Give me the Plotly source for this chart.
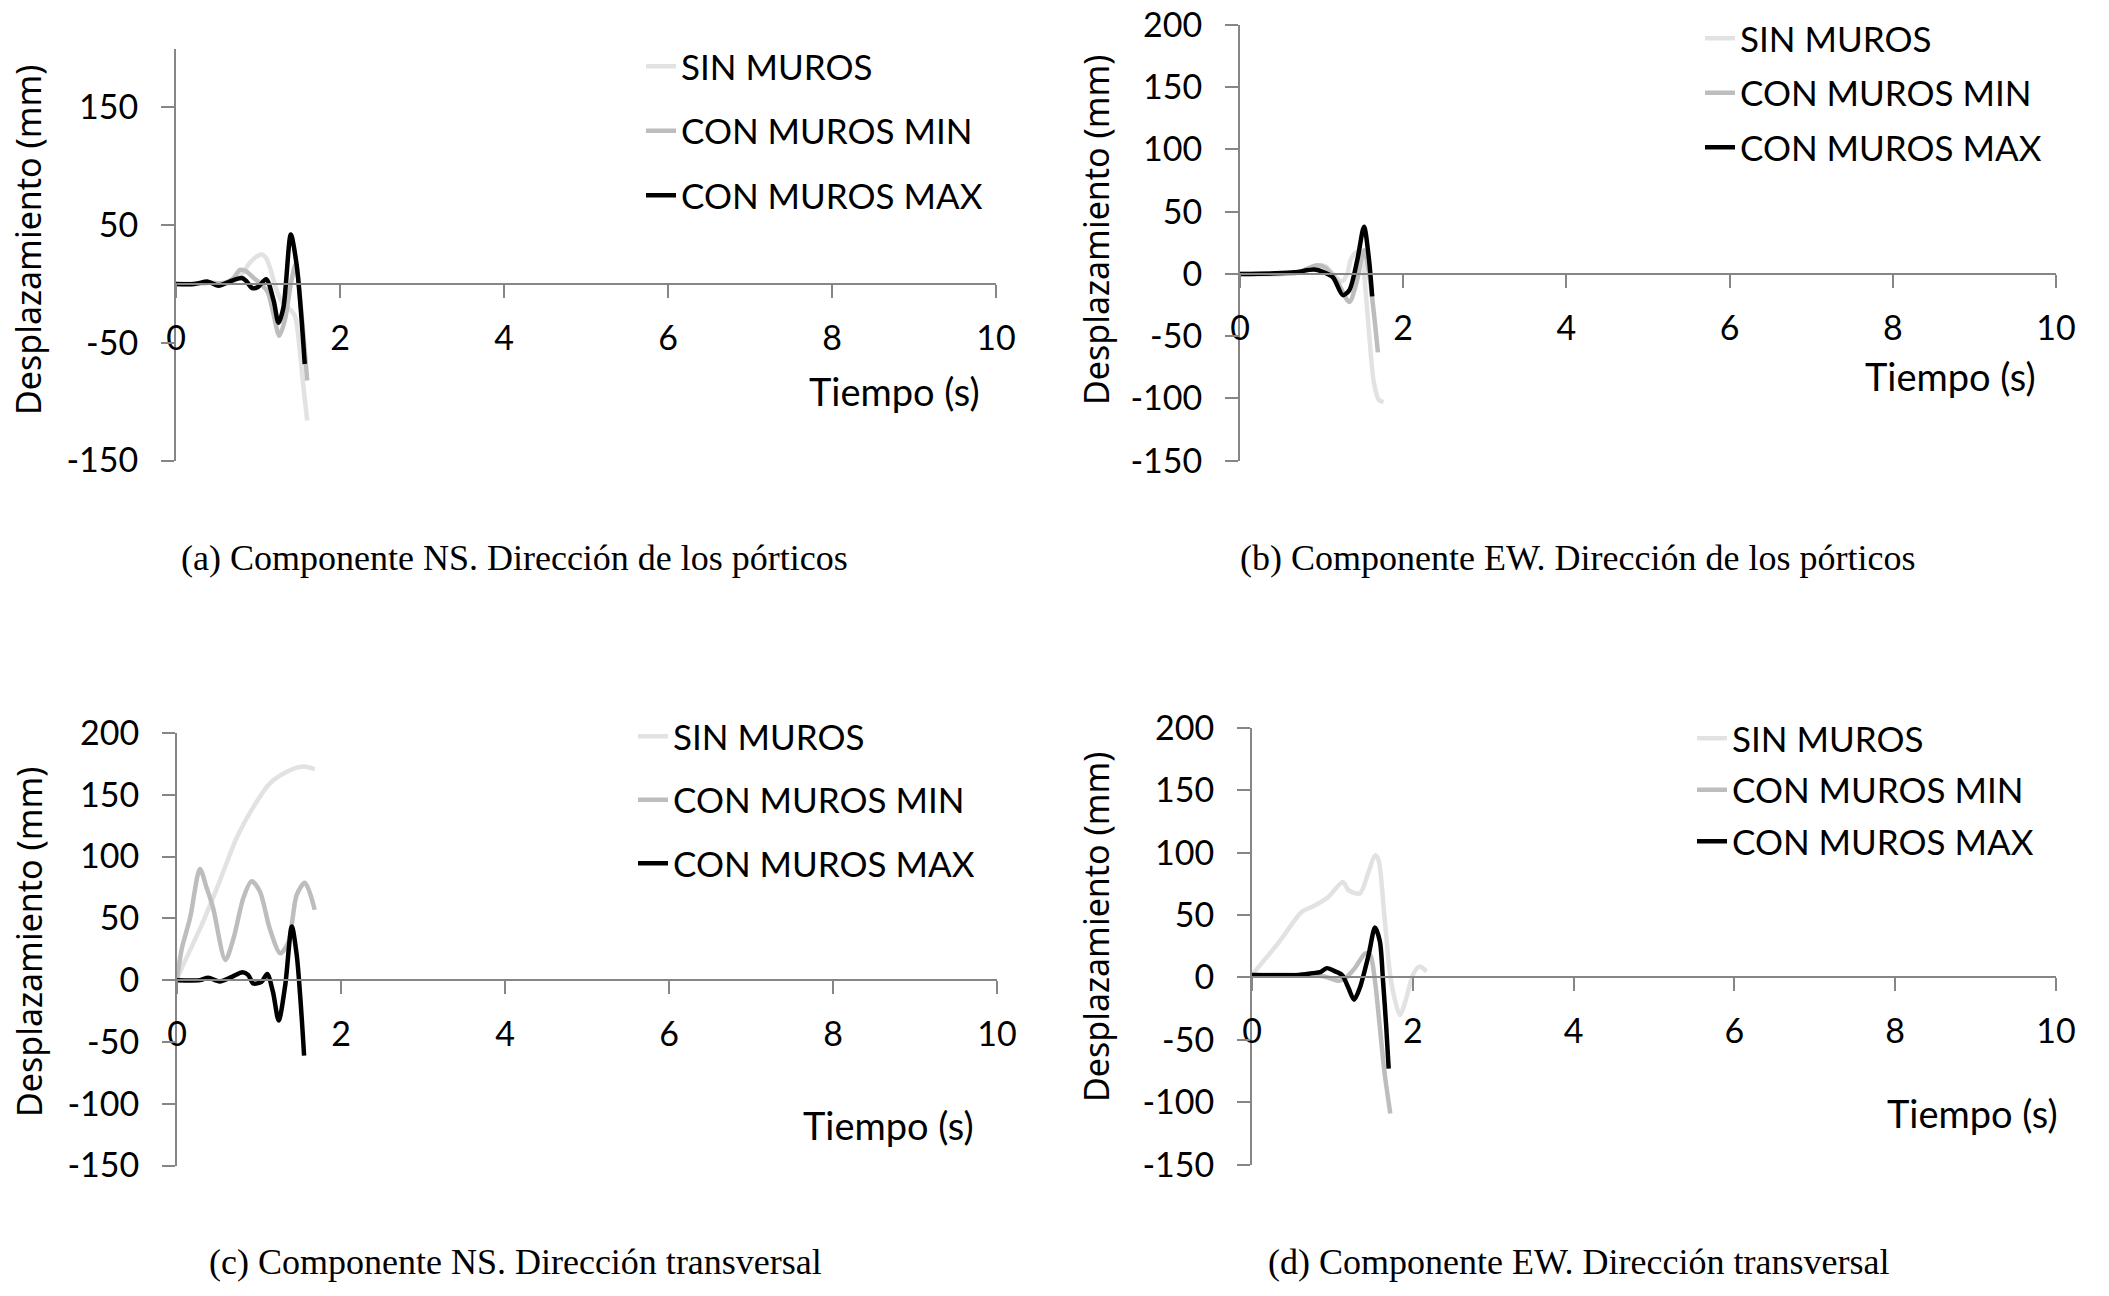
import plotly.graph_objects as go

W, H = 2109, 1296

SERIES = ["SIN MUROS", "CON MUROS MIN", "CON MUROS MAX"]
COLORS = ["#e2e2e2", "#bdbdbd", "#000000"]

# ---- (a) Componente NS, dirección de los pórticos ----
t_a_sin = [0, 0.2, 0.4, 0.6, 0.7, 0.8, 0.9, 1.0, 1.05, 1.1, 1.15, 1.22, 1.3, 1.38, 1.45, 1.5, 1.55, 1.6]
v_a_sin = [0, 0, 1, 0, 2, 8, 18, 24, 25, 22, 13, -4, -16, -21, -27, -50, -85, -116]
t_a_min = [0, 0.2, 0.4, 0.6, 0.7, 0.78, 0.85, 0.95, 1.05, 1.12, 1.19, 1.26, 1.33, 1.4, 1.46, 1.53, 1.6]
v_a_min = [0, 0, 1, 1, 5, 12, 11, 5, -1, -7, -26, -44, -30, 0, 17, -25, -82]
t_a_max = [0, 0.22, 0.39, 0.52, 0.66, 0.8, 0.85, 0.93, 1.0, 1.1, 1.19, 1.25, 1.31, 1.4, 1.47, 1.52, 1.57]
v_a_max = [0, 0, 2, -1.5, 2.3, 5, 3, -3.5, -2.5, 4, -14, -33, -20, 42, 17, -20, -68]

# ---- (b) Componente EW, dirección de los pórticos ----
t_b_sin = [0, 0.4, 0.7, 0.9, 1.0, 1.05, 1.14, 1.25, 1.32, 1.36, 1.44, 1.5, 1.54, 1.58, 1.64, 1.7, 1.76]
v_b_sin = [0, 0, 1, 6, 7, 6, 0, -6, 1, 12, 18, 10, -14, -46, -87, -101, -103]
t_b_min = [0, 0.4, 0.7, 0.85, 0.95, 1.05, 1.2, 1.34, 1.42, 1.52, 1.58, 1.64, 1.69]
v_b_min = [0, 0, 1, 5, 7, 5, -7, -22.5, -9, 19, 1, -31, -63]
t_b_max = [0, 0.43, 0.67, 0.91, 1.03, 1.14, 1.26, 1.34, 1.44, 1.52, 1.58, 1.62]
v_b_max = [0, 0.5, 1.3, 3.5, 1.3, -2.7, -17, -13, 12, 38, 12, -18]

# ---- (c) Componente NS, dirección transversal ----
t_c_sin = [0, 0.02, 0.32, 0.52, 0.73, 0.93, 1.13, 1.34, 1.54, 1.68]
v_c_sin = [0, 4, 47.6, 80, 115.6, 140, 159, 168.6, 172.8, 170.6]
t_c_min = [0, 0.06, 0.16, 0.28, 0.36, 0.44, 0.59, 0.69, 0.81, 0.91, 1.01, 1.13, 1.26, 1.36, 1.46, 1.56, 1.68]
v_c_min = [1, 26, 50.5, 90, 75, 58.5, 16.3, 34, 66.6, 80, 72, 42, 21.7, 31, 69, 78.8, 57]
t_c_max = [0, 0.28, 0.38, 0.52, 0.67, 0.8, 0.87, 0.93, 1.03, 1.1, 1.17, 1.24, 1.32, 1.4, 1.46, 1.51, 1.55]
v_c_max = [0, 0, 2, -1, 2.7, 6.3, 4, -2.7, -1.4, 5, -9.5, -32.6, -4, 43.5, 20.3, -20, -61]

# ---- (d) Componente EW, dirección transversal ----
t_d_sin = [0, 0.34, 0.62, 0.75, 0.95, 1.13, 1.2, 1.34, 1.45, 1.53, 1.57, 1.65, 1.73, 1.84, 1.92, 2.0, 2.08, 2.17]
v_d_sin = [2, 28.7, 52.7, 56.7, 64.6, 76.6, 70, 67.3, 84.6, 97.9, 95, 47, -3, -30, -16.5, 2, 8.7, 4.8]
t_d_min = [0, 0.6, 0.9, 1.08, 1.16, 1.28, 1.41, 1.47, 1.53, 1.59, 1.65, 1.72]
v_d_min = [2, 2, 0.8, -2.7, -0.5, 7.5, 19.4, 18, -3, -40, -77, -109]
t_d_max = [0, 0.58, 0.75, 0.85, 0.93, 1.02, 1.12, 1.2, 1.27, 1.34, 1.45, 1.53, 1.59, 1.63, 1.67, 1.7]
v_d_max = [2, 2, 3.5, 4.3, 7.5, 5.3, 2, -8.5, -17.8, -8.5, 18, 40, 29, -3, -40, -73]

x_ticks = [0, 2, 4, 6, 8, 10]
y_ticks_a = [-150, -50, 50, 150]
y_ticks = [-150, -100, -50, 0, 50, 100, 150, 200]

captions = [
    "(a) Componente NS. Dirección de los pórticos",
    "(b) Componente EW. Dirección de los pórticos",
    "(c) Componente NS. Dirección transversal",
    "(d) Componente EW. Dirección transversal",
]

data = [
    [(t_a_sin, v_a_sin), (t_a_min, v_a_min), (t_a_max, v_a_max)],
    [(t_b_sin, v_b_sin), (t_b_min, v_b_min), (t_b_max, v_b_max)],
    [(t_c_sin, v_c_sin), (t_c_min, v_c_min), (t_c_max, v_c_max)],
    [(t_d_sin, v_d_sin), (t_d_min, v_d_min), (t_d_max, v_d_max)],
]
yticks_per_panel = [y_ticks_a, y_ticks, y_ticks, y_ticks]

# pixel boxes of each plot area (left, right, top, bottom) and text placement
boxes = [
    dict(l=176, r=996, t=48.6, b=460.5, leg=(681, 68, 64), tiempo=(982, 391), ytit=(28, 240), cap=(514, 558)),
    dict(l=1240, r=2056, t=25, b=460.7, leg=(1740, 40, 54), tiempo=(2038, 376), ytit=(1096, 230), cap=(1578, 558)),
    dict(l=177, r=997, t=733, b=1165.5, leg=(673, 738, 63), tiempo=(976, 1125), ytit=(29, 942), cap=(515, 1262)),
    dict(l=1252, r=2056, t=728, b=1164.6, leg=(1732, 740, 51), tiempo=(2060, 1113), ytit=(1096, 927), cap=(1578, 1262)),
]

YMIN, YMAX = -150, 200
CALIBRI = "Lato, 'Open Sans', sans-serif"


def fx(p):
    return p / W


def fy(p):
    return 1 - p / H


fig = go.Figure()
layout = dict(
    width=W, height=H,
    margin=dict(l=0, r=0, t=0, b=0, autoexpand=False),
    paper_bgcolor="white", plot_bgcolor="white",
    showlegend=True,
    annotations=[],
)

for i, (panel, box) in enumerate(zip(data, boxes)):
    n = i + 1
    sfx = "" if n == 1 else str(n)
    leg_name = "legend" if n == 1 else f"legend{n}"
    for k, (t, v) in enumerate(panel):
        fig.add_trace(go.Scatter(
            x=t, y=v, mode="lines", name=SERIES[k],
            line=dict(color=COLORS[k], width=4.5, shape="spline", smoothing=0.8),
            xaxis=f"x{sfx}", yaxis=f"y{sfx}",
            legend=leg_name, legendgroup=f"{n}-{k}",
        ))

    zero_px = box["t"] + (YMAX - 0) / (YMAX - YMIN) * (box["b"] - box["t"])
    yt = yticks_per_panel[i]
    layout[f"xaxis{sfx}"] = dict(
        domain=[fx(box["l"]), fx(box["r"])], range=[0, 10],
        anchor="free", position=fy(zero_px), automargin=False,
        tickvals=x_ticks, ticktext=[str(v) for v in x_ticks],
        ticks="outside", ticklen=13, tickwidth=2, tickcolor="#868686",
        showline=True, linecolor="#868686", linewidth=2,
        showgrid=False, zeroline=False,
        tickfont=dict(family=CALIBRI, size=34, color="black"),
        ticklabelstandoff=11,
    )
    layout[f"yaxis{sfx}"] = dict(
        domain=[fy(box["b"]), fy(box["t"])], range=[YMIN, YMAX],
        anchor=f"x{sfx}", automargin=False,
        tickvals=yt, ticktext=[str(v) for v in yt],
        ticks="outside", ticklen=13, tickwidth=2, tickcolor="#868686",
        showline=True, linecolor="#868686", linewidth=2,
        showgrid=False, zeroline=False,
        tickfont=dict(family=CALIBRI, size=34, color="black"),
        ticklabelstandoff=16,
    )
    lx, ly, pitch = box["leg"]
    layout[leg_name] = dict(
        x=fx(lx - 40), y=fy(ly - 31), xanchor="left", yanchor="top",
        bgcolor="rgba(0,0,0,0)", traceorder="grouped",
        tracegroupgap=max(pitch - 48, 0), itemwidth=30,
        font=dict(family=CALIBRI, size=35, color="black"),
    )
    layout["annotations"] += [
        dict(text="Tiempo (s)", x=fx(box["tiempo"][0]), y=fy(box["tiempo"][1]),
             xref="paper", yref="paper", xanchor="right", yanchor="middle",
             showarrow=False, font=dict(family=CALIBRI, size=38, color="black")),
        dict(text="Desplazamiento (mm)", x=fx(box["ytit"][0]), y=fy(box["ytit"][1]),
             xref="paper", yref="paper", xanchor="center", yanchor="middle",
             textangle=-90, showarrow=False,
             font=dict(family="'Noto Sans', 'DejaVu Sans', sans-serif", size=34, color="black")),
        dict(text=captions[i], x=fx(box["cap"][0]), y=fy(box["cap"][1]),
             xref="paper", yref="paper", xanchor="center", yanchor="middle",
             showarrow=False, font=dict(family="'Liberation Serif', serif", size=36, color="black")),
    ]

fig.update_layout(**layout)
fig.write_html(
    "out.html",
    config={"displayModeBar": False},
    post_script="document.body.style.margin='0';document.body.style.padding='0';",
)
